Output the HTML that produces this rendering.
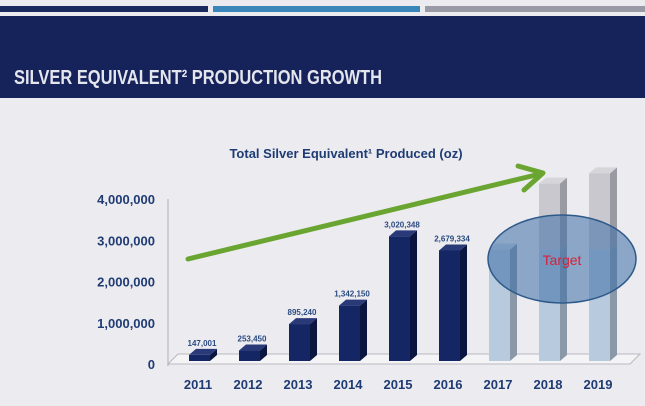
<!DOCTYPE html>
<html><head><meta charset="utf-8"><style>
body{margin:0;width:645px;height:401px;overflow:hidden;background:#ececf0;font-family:"Liberation Sans",sans-serif}
</style></head><body>
<svg width="645" height="401" viewBox="0 0 645 401">
<rect x="0" y="0" width="645" height="401" fill="#ececf0"/>
<rect x="0" y="6" width="208" height="6" fill="#1a2a5e"/>
<rect x="213" y="6" width="207" height="6" fill="#3a86b8"/>
<rect x="425" y="6" width="220" height="6" fill="#9a9aa6"/>
<rect x="0" y="16" width="645" height="82" fill="#16225a"/>
<text x="14" y="84" fill="#e4e6ee" font-size="20" font-weight="bold" textLength="368" lengthAdjust="spacingAndGlyphs">SILVER EQUIVALENT² PRODUCTION GROWTH</text>
<text x="346" y="158" text-anchor="middle" fill="#1f3b73" font-size="13" font-weight="bold">Total Silver Equivalent¹ Produced (oz)</text>
<g id="axes"></g>
<g id="bars"></g>
<g id="overlay"></g>
</svg>
<script>
const categories=["2011","2012","2013","2014","2015","2016","2017","2018","2019"];
const actualValues=[147001,253450,895240,1342150,3020348,2679334,null,null,null];
const targetBase=[null,null,null,null,null,null,2700000,2700000,2700000];
const targetTop=[null,null,null,null,null,null,null,4300000,4550000];
const valueLabels=["147,001","253,450","895,240","1,342,150","3,020,348","2,679,334","","",""];
const yTicks=[0,1000000,2000000,3000000,4000000];
const yTickLabels=["0","1,000,000","2,000,000","3,000,000","4,000,000"];
const NS="http://www.w3.org/2000/svg";
const base=361, perM=41.25;
function y(v){return base-v/1e6*perM;}
function xc(i){return 200+i*50;}
function mk(t,a,p){const e=document.createElementNS(NS,t);for(const k in a)e.setAttribute(k,a[k]);p.appendChild(e);return e;}
const ax=document.getElementById('axes'),bg=document.getElementById('bars'),ov=document.getElementById('overlay');
const fl=mk('polygon',{points:"168,364 630,364 640,354 178,354",fill:"#f4f4f6",stroke:"#b8b8c0","stroke-width":"1"},ax);


const yl=mk('line',{x1:168,y1:199,x2:168,y2:366,stroke:"#b0b0b8","stroke-width":1},ax);


yTicks.forEach((v,i)=>{
  const t=mk('text',{x:155,y:y(v)+8,"text-anchor":"end","font-size":"13","font-weight":"bold",fill:"#1f3b73"},ax);
  t.textContent=yTickLabels[i];
  
  
});
categories.forEach((c,i)=>{
  const t=mk('text',{x:xc(i)-2,y:389,"text-anchor":"middle","font-size":"13","font-weight":"bold",fill:"#1f3b73"},ax);
  t.textContent=c;
  
  
});
function bar3d(i,v0,v1,front,side,top,name,op){
  const x0=xc(i)-11,w=21,d=7,ty=y(v1),by=y(v0);
  const g=mk('g',{opacity:op},bg);
  
  
  mk('polygon',{points:`${x0+w},${by} ${x0+w+d},${by-6} ${x0+w+d},${ty-6} ${x0+w},${ty}`,fill:side},g);
  mk('polygon',{points:`${x0},${ty} ${x0+d},${ty-6} ${x0+w+d},${ty-6} ${x0+w},${ty}`,fill:top},g);
  mk('rect',{x:x0,y:ty,width:w,height:by-ty,fill:front},g);
}
actualValues.forEach((v,i)=>{
  if(v==null)return;
  bar3d(i,0,v,"#142663","#0a1540","#2a3a78","bar-"+categories[i],1);
  const t=mk('text',{x:xc(i)+2,y:y(v)-9,"text-anchor":"middle","font-size":"8","font-weight":"bold",fill:"#2a4a80"},bg);
  t.textContent=valueLabels[i];
  
  
});
targetBase.forEach((v,i)=>{
  if(v==null)return;
  bar3d(i,0,v,"#b8cade","#8a98a8","#c8d4e0","target-bar-"+categories[i],1);
  if(targetTop[i]!=null) bar3d(i,v,targetTop[i],"#c8c8ce","#9a9aa2","#d6d6da","target-upper-"+categories[i],1);
});
const el=mk('ellipse',{cx:562,cy:259,rx:74,ry:44,fill:"rgba(60,110,165,0.55)",stroke:"#2e5a8a","stroke-width":1.5},ov);


const tt=mk('text',{x:562,y:265,"text-anchor":"middle","font-size":"14",fill:"#d8203a"},ov);
tt.textContent="Target";


const ar=mk('g',{},ov);


mk('line',{x1:188,y1:259,x2:540,y2:174,stroke:"#6aa532","stroke-width":5,"stroke-linecap":"round"},ar);
mk('polyline',{points:"518,166 543,173 524,190",fill:"none",stroke:"#6aa532","stroke-width":5,"stroke-linecap":"round","stroke-linejoin":"round"},ar);
</script>
</body></html>
